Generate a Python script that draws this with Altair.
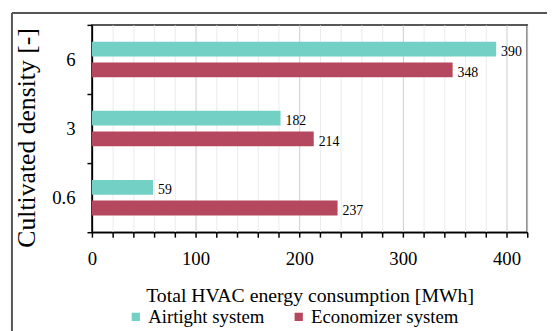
import altair as alt
import pandas as pd

densities = ["6", "3", "0.6"]
series = ["Airtight system", "Economizer system"]
airtight = [390, 182, 59]
economizer = [348, 214, 237]
colors = ["#72D0C5", "#B5485E"]
major_ticks = [0, 100, 200, 300, 400]
minor_ticks = [v for v in range(0, 421, 20) if v % 100 != 0]

rows = []
for d, a, e in zip(densities, airtight, economizer):
    rows.append({"density": d, "system": series[0], "value": a})
    rows.append({"density": d, "system": series[1], "value": e})
df = pd.DataFrame(rows)

FONT = "Liberation Serif"

x_major = alt.X(
    "value:Q",
    scale=alt.Scale(domain=[0, 420], nice=False),
    axis=alt.Axis(
        title="Total HVAC energy consumption [MWh]",
        values=major_ticks,
        format="d",
        labelOverlap=False,
        labelFlush=False,
        gridColor="#cccccc",
        grid=True,
        tickSize=5,
        labelPadding=13,
        titlePadding=17,
        titleFontSize=20,
        orient="bottom",
    ),
)
x_minor = alt.X(
    "value:Q",
    scale=alt.Scale(domain=[0, 420], nice=False),
    axis=alt.Axis(
        title=None,
        values=minor_ticks,
        labels=False,
        domain=False,
        gridColor="#ebebeb",
        grid=True,
        tickSize=5,
        orient="bottom",
    ),
)
y_enc = alt.Y(
    "density:N",
    sort=densities,
    scale=alt.Scale(paddingInner=0, paddingOuter=0),
    axis=alt.Axis(
        title="Cultivated density [-]",
        tickBand="extent",
        tickSize=5,
        labelPadding=12,
        titlePadding=12,
        titleFontSize=26,
        titleY=114,
        grid=False,
    ),
)
yoff = alt.YOffset(
    "system:N",
    sort=series,
    scale=alt.Scale(paddingInner=0.286, paddingOuter=0.81),
)
color = alt.Color(
    "system:N",
    sort=series,
    scale=alt.Scale(domain=series, range=colors),
    legend=alt.Legend(
        title=None,
        orient="none",
        direction="horizontal",
        legendX=35,
        legendY=286,
        symbolType="square",
        symbolSize=70,
        symbolStrokeWidth=0,
        labelFont=FONT,
        labelFontSize=19,
        labelColor="#000",
        columnPadding=25,
        labelOffset=3,
    ),
)

bars = alt.Chart(df).mark_bar().encode(x=x_major, y=y_enc, yOffset=yoff, color=color)
labels = alt.Chart(df).mark_text(
    align="left", baseline="middle", dx=5, dy=3, font=FONT, fontSize=14, color="#000"
).encode(
    x=x_minor,
    y=alt.Y("density:N", sort=densities),
    yOffset=alt.YOffset("system:N", sort=series),
    text="value:Q",
)

frame_df = pd.DataFrame({"k": [0]})
left_line = alt.Chart(frame_df).mark_rule(color="#555", strokeWidth=2).encode(
    x=alt.value(-81), y=alt.value(-12), y2=alt.value(330)
)
top_line = alt.Chart(frame_df).mark_rule(color="#555", strokeWidth=2).encode(
    x=alt.value(-81), x2=alt.value(600), y=alt.value(-12)
)

chart = (
    alt.layer(bars, labels, left_line, top_line)
    .resolve_axis(x="independent")
    .properties(
        width=441,
        height=210,
        autosize=alt.AutoSizeParams(type="none"),
        padding={"left": 85, "top": 15, "right": 20, "bottom": 100},
        background="white",
    )
    .configure_view(stroke="#222", strokeWidth=1.5)
    .configure_axis(
        labelFont=FONT,
        titleFont=FONT,
        labelFontSize=19,
        titleFontWeight="normal",
        labelColor="#000",
        titleColor="#000",
        domainColor="#000",
        domainWidth=1.5,
        tickColor="#000",
        tickWidth=1.5,
    )
)

chart.save("out.html", embed_options={"renderer": "svg", "actions": False})
